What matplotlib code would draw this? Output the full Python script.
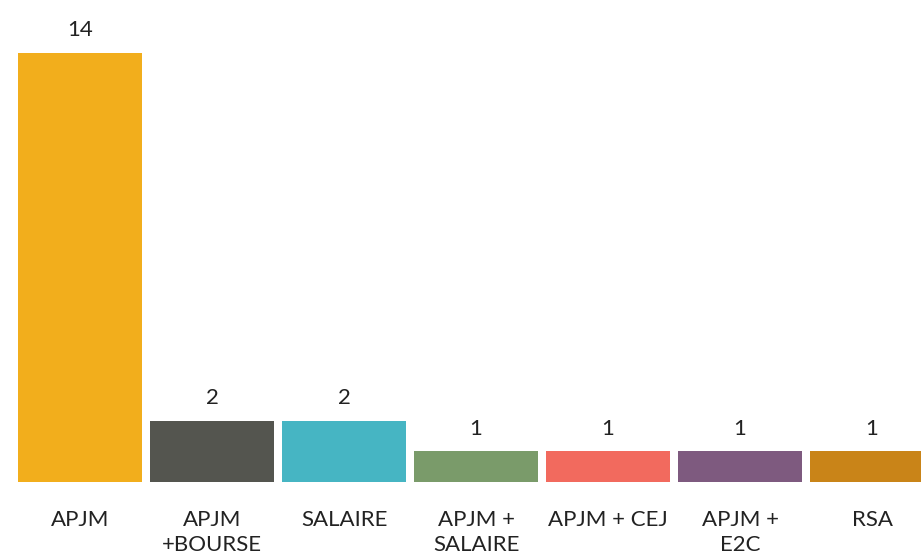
import matplotlib.pyplot as plt

categories = ['APJM', 'APJM\n+BOURSE', 'SALAIRE', 'APJM +\nSALAIRE', 'APJM + CEJ', 'APJM +\nE2C', 'RSA']
values = [14, 2, 2, 1, 1, 1, 1]
colors = ['#F2AE1C', '#54554F', '#46B5C3', '#7A9B6A', '#F26A5E', '#7E5A7F', '#C98418']

plt.rcParams['font.family'] = ['Lato', 'DejaVu Sans']

fig = plt.figure(figsize=(9.21, 5.6), dpi=100)
ax = fig.add_axes([0, 78 / 560, 1, 429 / 560])

x = list(range(len(values)))
ax.bar(x, values, width=0.94, color=colors)
ax.set_xlim(-80 / 132, 841 / 132)
ax.set_ylim(0, 14)
ax.axis('off')

for i, v in enumerate(values):
    ax.annotate(str(v), (i, v), xytext=(0, 9), textcoords='offset points',
                ha='center', va='bottom', fontsize=16, color='#222222')
    ax.annotate(categories[i], (i, 0), xytext=(0, -20), textcoords='offset points',
                ha='center', va='top', fontsize=16, color='#222222', linespacing=1.3)

fig.savefig('out.png', dpi=100)
